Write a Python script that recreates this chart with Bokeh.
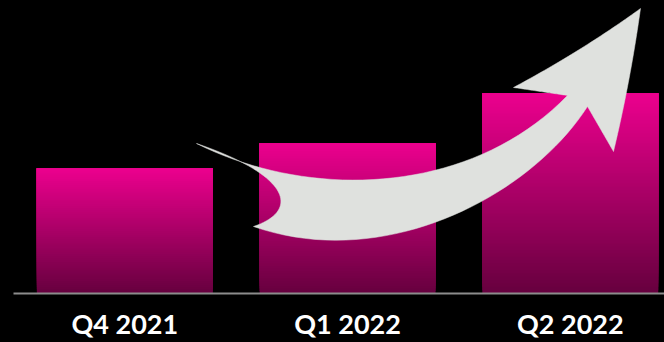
import numpy as np
from bokeh.plotting import figure
from bokeh.models import Range1d, FixedTicker
from bokeh.embed import file_html
from bokeh.resources import INLINE

# ---- data ----
categories = ["Q4 2021", "Q1 2022", "Q2 2022"]
values = [2.5, 3.0, 4.0]
positions = [0.5, 1.5, 2.5]

# ---- styling ----
TOP_RGB = (236, 0, 142)
BOT_RGB = (102, 0, 62)
BAR_WIDTH = 0.79
N_STRIPS = 60

# Decorative arrow outline (screen-pixel space, cubic Bezier / line segments)
ARROW_SEGMENTS = [
    [(196, 143), (310, 200), (470, 195), (567, 95)],   # upper edge of body
    [(567, 95), (513, 87)],                             # to left barb
    [(513, 87), (582, 50), (640, 8)],                   # to apex
    [(640, 8), (630, 80), (613, 151)],                  # to right barb
    [(613, 151), (587, 106)],                           # to inner notch
    [(587, 106), (530, 195), (385, 272), (253, 226)],  # lower edge of body
    [(253, 226), (300, 210), (290, 175), (196, 143)],  # tail notch
]
ARROW_COLOR = "#dfe1de"

W, H = 664, 342
FRAME_LEFT, FRAME_BOTTOM = 13, 293

p = figure(width=W, height=H, output_backend="svg", toolbar_location=None,
           x_range=Range1d(0, 2.923), y_range=Range1d(0, 5.86),
           min_border_left=FRAME_LEFT, min_border_right=0, min_border_top=0,
           min_border_bottom=H - FRAME_BOTTOM)
p.background_fill_color = "black"
p.border_fill_color = "black"
p.outline_line_color = None
p.styles = {"background-color": "black"}
p.grid.visible = False
p.yaxis.visible = False

p.extra_x_ranges = {"px": Range1d(FRAME_LEFT, W)}
p.extra_y_ranges = {"px": Range1d(FRAME_BOTTOM, 0)}

# gradient bars: overlapping strips, drawn bottom->top
for x, v in zip(positions, values):
    fr = np.arange(N_STRIPS) / N_STRIPS
    cols = []
    for f in fr + 0.5 / N_STRIPS:
        c = [int(round(b + (t - b) * f)) for t, b in zip(TOP_RGB, BOT_RGB)]
        cols.append("#%02x%02x%02x" % tuple(c))
    p.quad(left=x - BAR_WIDTH / 2, right=x + BAR_WIDTH / 2,
           bottom=list(fr * v), top=[v] * N_STRIPS,
           fill_color=cols, line_color=None)


def bez(pts, n=40):
    pts = np.array(pts, dtype=float)
    t = np.linspace(0, 1, n)[:, None]
    if len(pts) == 2:
        return (1 - t) * pts[0] + t * pts[1]
    if len(pts) == 3:
        return (1 - t) ** 2 * pts[0] + 2 * (1 - t) * t * pts[1] + t ** 2 * pts[2]
    return ((1 - t) ** 3 * pts[0] + 3 * (1 - t) ** 2 * t * pts[1]
            + 3 * (1 - t) * t ** 2 * pts[2] + t ** 3 * pts[3])


outline = np.vstack([bez(s) for s in ARROW_SEGMENTS])
p.patch(x=list(outline[:, 0]), y=list(outline[:, 1]),
        x_range_name="px", y_range_name="px",
        fill_color=ARROW_COLOR, line_color=ARROW_COLOR, line_width=0.5)

ax = p.xaxis[0]
ax.ticker = FixedTicker(ticks=positions)
ax.major_label_overrides = {pos: lab for pos, lab in zip(positions, categories)}
ax.axis_line_color = "#8c8c8c"
ax.axis_line_width = 2
ax.major_tick_line_color = None
ax.minor_tick_line_color = None
ax.major_tick_in = 0
ax.major_tick_out = 0
ax.major_label_standoff = 13
ax.major_label_text_color = "white"
ax.major_label_text_font = "Lato"
ax.major_label_text_font_style = "bold"
ax.major_label_text_font_size = "27px"

open("out.html", "w").write(file_html(p, INLINE))
